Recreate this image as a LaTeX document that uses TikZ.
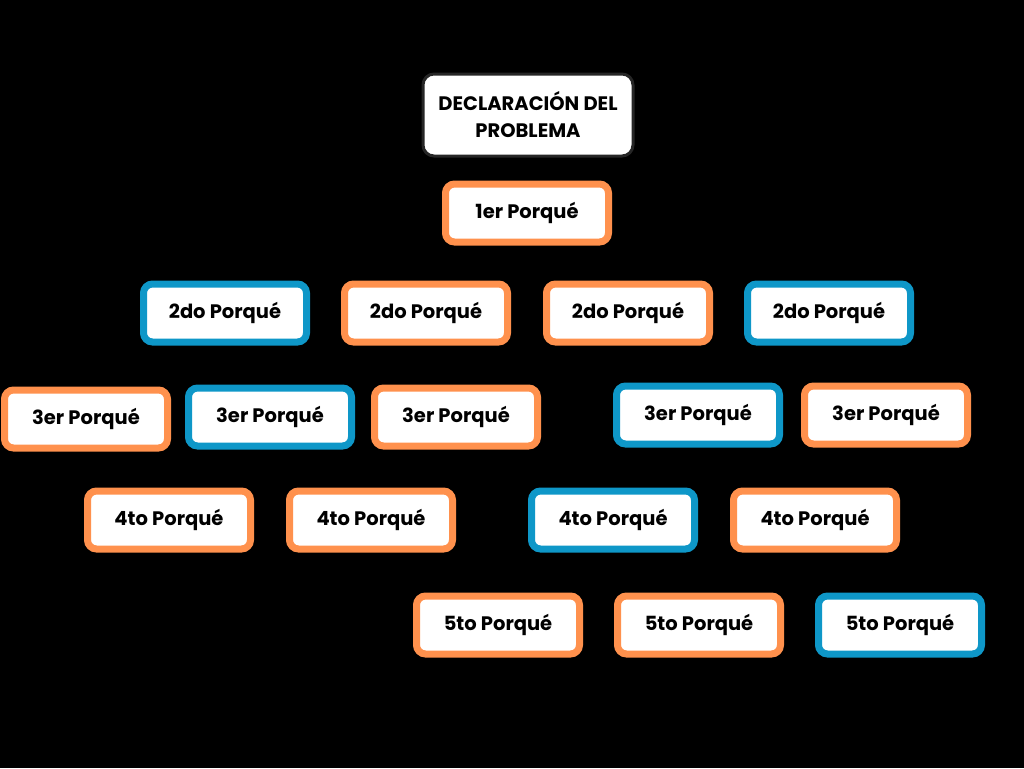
\documentclass[tikz,border=0pt]{standalone}
\usepackage{fontspec}
\setmainfont{Poppins}
\definecolor{porange}{HTML}{FF914D}
\definecolor{pblue}{HTML}{0E97C8}

\tikzset{
  whybox/.style={draw=#1, fill=white, line width=7pt, rounded corners=9pt,
    minimum width=163pt, minimum height=58pt, inner sep=0pt,
    font=\fontsize{19.5}{22}\selectfont\bfseries},
  titlebox/.style={draw=black!85, fill=white, line width=3pt, rounded corners=11pt,
    minimum width=210pt, minimum height=82pt, align=center, inner sep=0pt,
    font=\fontsize{19.5}{27}\selectfont\bfseries}
}

\begin{document}
\begin{tikzpicture}[x=1pt, y=-1pt]
  \fill[black] (0,0) rectangle (1024,768);
  \useasboundingbox (0,0) rectangle (1024,768);

  % planteamiento
  \node[titlebox] (problema) at (528, 115) {DECLARACIÓN DEL\\PROBLEMA};
  \node[whybox=porange] (p1) at (527, 213) {1er Porqué};

  % segundo nivel
  \node[whybox=pblue]   (p2a) at (225, 313) {2do Porqué};
  \node[whybox=porange] (p2b) at (426, 313) {2do Porqué};
  \node[whybox=porange] (p2c) at (628, 313) {2do Porqué};
  \node[whybox=pblue]   (p2d) at (829, 313) {2do Porqué};

  % tercer nivel
  \node[whybox=porange] (p3a) at (86, 419)  {3er Porqué};
  \node[whybox=pblue]   (p3b) at (270, 417) {3er Porqué};
  \node[whybox=porange] (p3c) at (456, 417) {3er Porqué};
  \node[whybox=pblue]   (p3d) at (698, 415) {3er Porqué};
  \node[whybox=porange] (p3e) at (886, 415) {3er Porqué};

  % cuarto nivel
  \node[whybox=porange] (p4a) at (169, 520) {4to Porqué};
  \node[whybox=porange] (p4b) at (371, 520) {4to Porqué};
  \node[whybox=pblue]   (p4c) at (613, 520) {4to Porqué};
  \node[whybox=porange] (p4d) at (815, 520) {4to Porqué};

  % quinto nivel
  \node[whybox=porange] (p5a) at (498, 625) {5to Porqué};
  \node[whybox=porange] (p5b) at (699, 625) {5to Porqué};
  \node[whybox=pblue]   (p5c) at (900, 625) {5to Porqué};
\end{tikzpicture}
\end{document}
